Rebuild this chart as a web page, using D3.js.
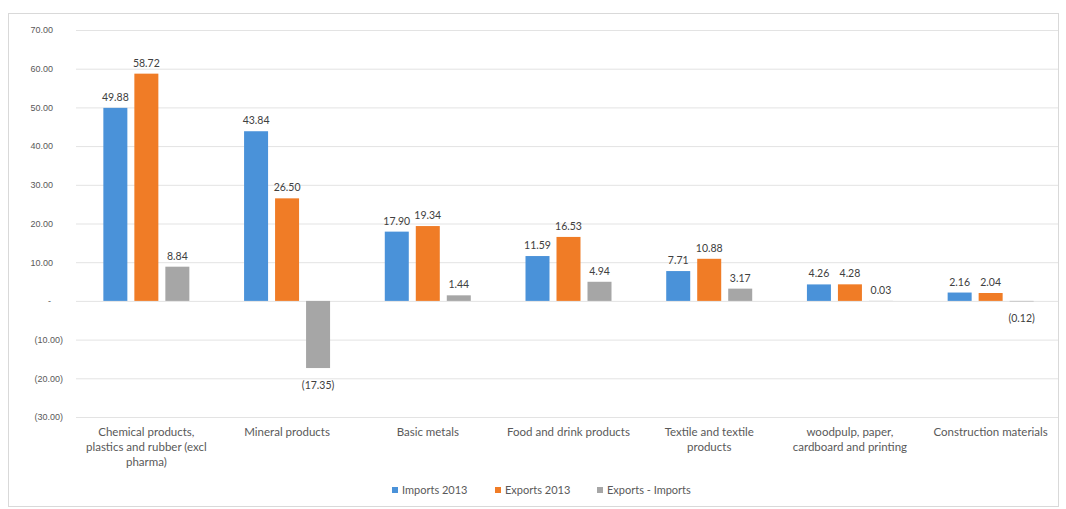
<!DOCTYPE html>
<html>
<head>
<meta charset="utf-8">
<script src="https://cdn.jsdelivr.net/npm/d3@7/dist/d3.min.js"></script>
<style>
  html, body { margin: 0; padding: 0; background: #ffffff; }
  svg { display: block; font-family: Lato, "Open Sans", sans-serif; }
</style>
</head>
<body>
<svg id="chart" width="1066" height="509"></svg>
<script>
// Trade by product group, 2013 (EUR bn)
const categories = [
  ["Chemical products,", "plastics and rubber (excl", "pharma)"],
  ["Mineral products"],
  ["Basic metals"],
  ["Food and drink products"],
  ["Textile and textile", "products"],
  ["woodpulp, paper,", "cardboard and printing"],
  ["Construction materials"]
];
const seriesNames = ["Imports 2013", "Exports 2013", "Exports - Imports"];
const imports2013 = [49.88, 43.84, 17.90, 11.59, 7.71, 4.26, 2.16];
const exports2013 = [58.72, 26.50, 19.34, 16.53, 10.88, 4.28, 2.04];
const balance    = [8.84, -17.35, 1.44, 4.94, 3.17, 0.03, -0.12];
const yTicks = [-30, -20, -10, 0, 10, 20, 30, 40, 50, 60, 70];
const colors = ["#4a92d9", "#f07c26", "#a6a6a6"];

const svg = d3.select("#chart");
const plot = { left: 76, right: 1061, top: 30, bottom: 417 };

// outer chart frame
svg.append("rect")
  .attr("x", 8.5).attr("y", 13.5)
  .attr("width", 1050).attr("height", 493)
  .attr("fill", "#ffffff").attr("stroke", "#d9d9d9");

const series = [imports2013, exports2013, balance];
const idx = d3.range(categories.length);

const x0 = d3.scaleBand().domain(idx).range([plot.left, plot.right]).paddingInner(0).paddingOuter(0);
const groupW = 86;
const x1 = d3.scaleBand().domain(d3.range(3)).range([0, groupW]).paddingInner(7 / 31).paddingOuter(0);
const y = d3.scaleLinear().domain([-30, 70]).range([plot.bottom, plot.top]);

const fmt = d3.format(".2f");
const tickFmt = v => v === 0 ? "-" : (v < 0 ? "(" + fmt(-v) + ")" : fmt(v));
const labelFmt = v => v < 0 ? "(" + fmt(-v) + ")" : fmt(v);

// gridlines and y axis labels (accounting style alignment)
const yAxis = d3.axisLeft(y).tickValues(yTicks)
  .tickSize(-(plot.right - 3 - plot.left)).tickPadding(13).tickFormat(tickFmt);
const gy = svg.append("g").attr("transform", `translate(${plot.left},0)`).call(yAxis);
gy.select(".domain").remove();
gy.selectAll(".tick line").attr("stroke", "#e3e3e3").attr("stroke-width", 1);
gy.selectAll(".tick text")
  .attr("fill", "#595959").style("font-size", "9px")
  .attr("dx", d => d === 0 ? -12 : (d > 0 ? -10 : 0));

// bars
const groups = svg.append("g").selectAll("g").data(idx).join("g")
  .attr("transform", i => `translate(${x0(i) + (x0.bandwidth() - groupW) / 2},0)`);

groups.selectAll("rect")
  .data(i => series.map((s, k) => ({ k, v: s[i] })))
  .join("rect")
  .attr("x", d => x1(d.k))
  .attr("width", x1.bandwidth())
  .attr("y", d => y(Math.max(0, d.v)))
  .attr("height", d => Math.abs(y(d.v) - y(0)))
  .attr("fill", d => colors[d.k]);

// value labels
groups.selectAll("text.val")
  .data(i => series.map((s, k) => ({ k, v: s[i] })))
  .join("text")
  .attr("class", "val")
  .attr("x", d => x1(d.k) + x1.bandwidth() / 2)
  .attr("y", d => d.v >= 0 ? y(d.v) - 7 : y(d.v) + 21)
  .attr("text-anchor", "middle")
  .attr("fill", "#404040")
  .style("font-size", "10.5px")
  .text(d => labelFmt(d.v));

// category labels
const xl = svg.append("g").selectAll("text").data(idx).join("text")
  .attr("x", i => x0(i) + x0.bandwidth() / 2)
  .attr("y", 436)
  .attr("text-anchor", "middle")
  .attr("fill", "#595959")
  .style("font-size", "11.5px");
xl.selectAll("tspan").data(i => categories[i]).join("tspan")
  .attr("x", function () { return d3.select(this.parentNode).attr("x"); })
  .attr("dy", (d, j) => j === 0 ? 0 : 15)
  .text(d => d);

// legend
const legendX = [392, 495, 597];
const leg = svg.append("g").selectAll("g").data(seriesNames).join("g")
  .attr("transform", (d, k) => `translate(${legendX[k]},494)`);
leg.append("rect").attr("x", 0).attr("y", -7).attr("width", 6).attr("height", 6)
  .attr("fill", (d, k) => colors[k]);
leg.append("text").attr("x", 10).attr("y", 0)
  .attr("fill", "#595959").style("font-size", "11px")
  .text(d => d);
</script>
</body>
</html>
